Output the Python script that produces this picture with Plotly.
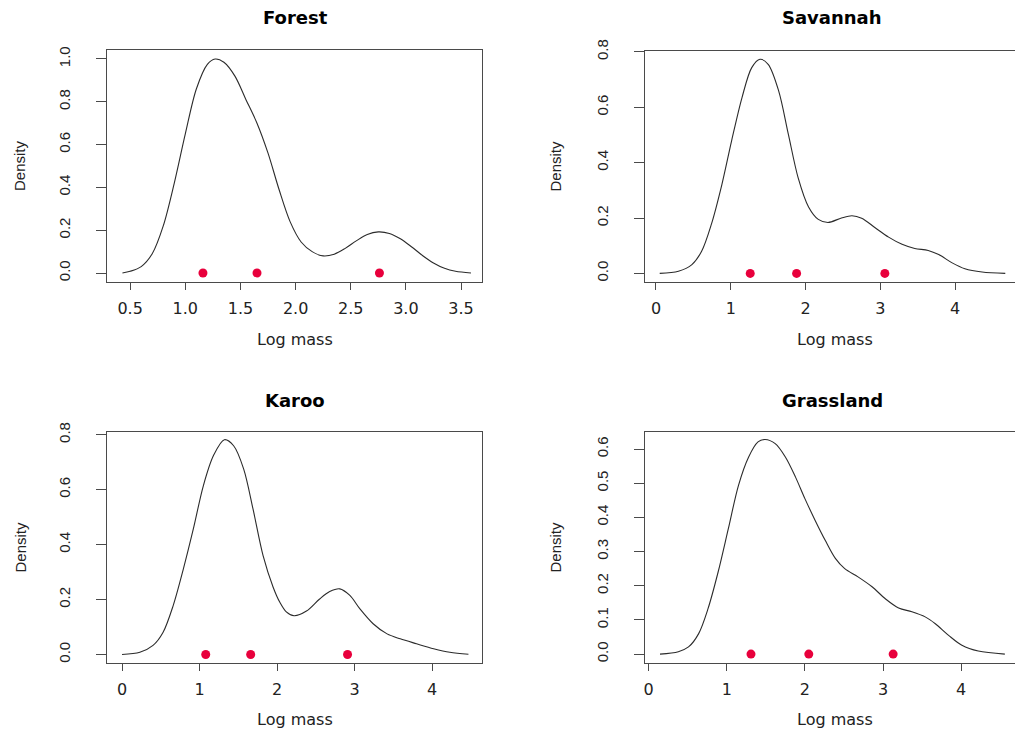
import plotly.graph_objects as go

# Kernel density curves of log body mass, one per habitat
habitats = ["Forest", "Savannah", "Karoo", "Grassland"]

forest_x = [0.43, 0.5, 0.6, 0.7, 0.8, 0.9, 1.0, 1.1, 1.2, 1.27, 1.35, 1.45, 1.55, 1.65,
            1.75, 1.85, 1.95, 2.05, 2.15, 2.25, 2.35, 2.45, 2.55, 2.65, 2.75, 2.85, 2.95,
            3.05, 3.15, 3.25, 3.35, 3.45, 3.59]
forest_y = [0.0, 0.008, 0.03, 0.09, 0.22, 0.42, 0.65, 0.86, 0.975, 1.0, 0.985, 0.92, 0.81,
            0.70, 0.56, 0.39, 0.24, 0.145, 0.10, 0.08, 0.088, 0.115, 0.15, 0.18, 0.192,
            0.185, 0.16, 0.123, 0.082, 0.047, 0.022, 0.008, 0.0]
forest_pts = [1.16, 1.65, 2.76]

savannah_x = [0.05, 0.30, 0.48, 0.61, 0.74, 0.88, 1.01, 1.15, 1.28, 1.39, 1.50, 1.64,
              1.77, 1.90, 2.04, 2.17, 2.30, 2.48, 2.62, 2.75, 2.93, 3.11, 3.29, 3.46,
              3.64, 3.78, 3.96, 4.13, 4.36, 4.67]
savannah_y = [0.0, 0.008, 0.032, 0.08, 0.177, 0.32, 0.478, 0.635, 0.743, 0.773, 0.755,
              0.659, 0.502, 0.346, 0.24, 0.195, 0.184, 0.2, 0.208, 0.199, 0.165, 0.131,
              0.105, 0.09, 0.083, 0.068, 0.038, 0.017, 0.005, 0.0]
savannah_pts = [1.26, 1.88, 3.06]

karoo_x = [0.0, 0.23, 0.40, 0.53, 0.66, 0.79, 0.92, 1.05, 1.18, 1.32, 1.44, 1.57, 1.69,
           1.82, 1.95, 2.04, 2.12, 2.22, 2.38, 2.55, 2.68, 2.81, 2.94, 3.07, 3.24, 3.42,
           3.59, 3.80, 4.02, 4.23, 4.47]
karoo_y = [0.0, 0.008, 0.033, 0.081, 0.178, 0.31, 0.457, 0.615, 0.724, 0.782, 0.76,
           0.675, 0.53, 0.36, 0.245, 0.188, 0.155, 0.141, 0.158, 0.202, 0.229, 0.239,
           0.215, 0.166, 0.112, 0.075, 0.057, 0.039, 0.021, 0.008, 0.001]
karoo_pts = [1.08, 1.66, 2.91]

grass_x = [0.145, 0.38, 0.51, 0.64, 0.76, 0.89, 1.02, 1.15, 1.28, 1.40, 1.49, 1.62, 1.75,
           1.88, 2.00, 2.13, 2.26, 2.39, 2.51, 2.68, 2.86, 3.03, 3.20, 3.37, 3.54, 3.67,
           3.84, 4.01, 4.22, 4.56]
grass_y = [0.0, 0.007, 0.021, 0.06, 0.133, 0.241, 0.367, 0.494, 0.577, 0.621, 0.628,
           0.616, 0.577, 0.518, 0.455, 0.392, 0.333, 0.28, 0.25, 0.226, 0.197, 0.162,
           0.135, 0.124, 0.109, 0.089, 0.055, 0.026, 0.009, 0.0]
grass_pts = [1.31, 2.05, 3.13]

# tick values per panel
x_ticks = [[0.5, 1.0, 1.5, 2.0, 2.5, 3.0, 3.5], [0, 1, 2, 3, 4], [0, 1, 2, 3, 4], [0, 1, 2, 3, 4]]
x_ticktext = [["0.5", "1.0", "1.5", "2.0", "2.5", "3.0", "3.5"],
              ["0", "1", "2", "3", "4"], ["0", "1", "2", "3", "4"], ["0", "1", "2", "3", "4"]]
y_ticks = [[0.0, 0.2, 0.4, 0.6, 0.8, 1.0], [0.0, 0.2, 0.4, 0.6, 0.8],
           [0.0, 0.2, 0.4, 0.6, 0.8], [0.0, 0.1, 0.2, 0.3, 0.4, 0.5, 0.6]]
y_ticktext = [["0.0", "0.2", "0.4", "0.6", "0.8", "1.0"], ["0.0", "0.2", "0.4", "0.6", "0.8"],
              ["0.0", "0.2", "0.4", "0.6", "0.8"],
              ["0.0", "0.1", "0.2", "0.3", "0.4", "0.5", "0.6"]]

curves = [(forest_x, forest_y, forest_pts), (savannah_x, savannah_y, savannah_pts),
          (karoo_x, karoo_y, karoo_pts), (grass_x, grass_y, grass_pts)]

W, H = 1015, 733
# plot-region boxes in pixels: left, right, top, bottom
boxes = [(107, 482, 50, 282), (645, 1015, 51, 282), (107, 482, 432, 663), (645, 1015, 432, 663)]
x_ranges = [[0.29, 3.69], [-0.147, 4.80], [-0.194, 4.645], [-0.047, 4.69]]
y_ranges = [[-0.042, 1.042], [-0.031, 0.803], [-0.031, 0.81], [-0.026, 0.65]]
title_centers = [(295, 18), (832, 18), (295, 400), (832, 400)]
xlabel_y = [339, 339, 719, 719]
ylabel_x = [20, 555, 20, 555]

LINE = "#2b2b2b"
FRAME = "#4a4a4a"
POINT = "#e8003c"
WIDE = "DejaVu Sans, Arial, sans-serif"
NARROW = "Liberation Sans, Arial, sans-serif"

fig = go.Figure()
annotations = []
for i, (cx, cy, pts) in enumerate(curves):
    suffix = "" if i == 0 else str(i + 1)
    xa, ya = "x" + suffix, "y" + suffix
    fig.add_trace(go.Scatter(x=cx, y=cy, mode="lines", xaxis=xa, yaxis=ya,
                             line=dict(color=LINE, width=1.1, shape="spline", smoothing=0.9),
                             showlegend=False, hoverinfo="skip"))
    fig.add_trace(go.Scatter(x=pts, y=[0] * len(pts), mode="markers", xaxis=xa, yaxis=ya,
                             marker=dict(color=POINT, size=9, line=dict(width=0)),
                             showlegend=False))
    l, r, t, b = boxes[i]
    x_dom = [l / W, r / W]
    y_dom = [1 - b / H, 1 - t / H]
    fig.layout["xaxis" + suffix] = dict(
        domain=x_dom, range=x_ranges[i], anchor=ya, showgrid=False, zeroline=False,
        automargin=False,
        showline=True, linecolor=FRAME, linewidth=1, mirror=True,
        ticks="outside", ticklen=7, tickcolor=FRAME, tickwidth=1,
        tickvals=x_ticks[i], ticktext=x_ticktext[i], ticklabelstandoff=5,
        tickfont=dict(family=WIDE, size=16, color="#222222"))
    fig.layout["yaxis" + suffix] = dict(
        domain=y_dom, range=y_ranges[i], anchor=xa, showgrid=False, zeroline=False,
        automargin=False,
        showline=True, linecolor=FRAME, linewidth=1, mirror=(i % 2 == 0),
        ticks="outside", ticklen=10, tickcolor=FRAME, tickwidth=1,
        tickvals=y_ticks[i], ticktext=y_ticktext[i], tickangle=-90, ticklabelstandoff=20,
        tickfont=dict(family=NARROW, size=15, color="#222222"))
    tx, ty = title_centers[i]
    annotations.append(dict(text="<b>" + habitats[i] + "</b>", x=tx / W, y=1 - ty / H,
                            xref="paper", yref="paper", showarrow=False,
                            xanchor="center", yanchor="middle",
                            font=dict(family=WIDE, size=18, color="#000000")))
    annotations.append(dict(text="Log mass", x=((l + (482 if i % 2 == 0 else 1024)) / 2) / W,
                            y=1 - xlabel_y[i] / H, xref="paper", yref="paper",
                            showarrow=False, xanchor="center", yanchor="middle",
                            font=dict(family=WIDE, size=16, color="#222222")))
    annotations.append(dict(text="Density", x=ylabel_x[i] / W, y=1 - ((t + b) / 2) / H,
                            xref="paper", yref="paper", showarrow=False, textangle=-90,
                            xanchor="center", yanchor="middle",
                            font=dict(family=NARROW, size=15, color="#222222")))

fig.update_layout(width=W, height=H, margin=dict(l=0, r=0, t=0, b=0, autoexpand=False),
                  paper_bgcolor="white", plot_bgcolor="white",
                  annotations=annotations, showlegend=False)
fig.write_html("out.html")
